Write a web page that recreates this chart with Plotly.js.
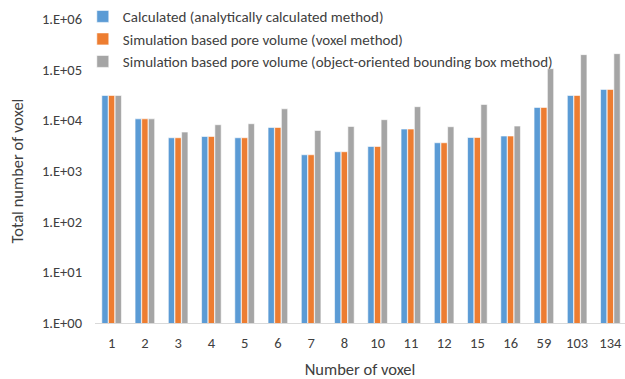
<!DOCTYPE html>
<html>
<head>
<meta charset="utf-8">
<script src="https://cdn.plot.ly/plotly-3.0.1.min.js"></script>
<style>html,body{margin:0;padding:0;background:#fff;}#chart{width:625px;height:379px;}</style>
</head>
<body>
<div id="chart"></div>
<script>
const categories = ["1","2","3","4","5","6","7","8","10","11","12","15","16","59","103","134"];
const calculated = [31000,10700,4530,4800,4530,7240,2090,2400,3050,6730,3610,4590,4900,18000,31000,40800];
const voxelMethod = [31000,10700,4530,4800,4530,7240,2090,2400,3050,6730,3610,4590,4900,18000,31000,40800];
const obbMethod = [31000,10700,5870,8190,8570,16900,6310,7580,10300,18600,7480,20600,7710,104700,198000,207000];
const seriesNames = [
  "Calculated (analytically calculated method)",
  "Simulation based pore volume (voxel method)",
  "Simulation based pore volume (object-oriented bounding box method)"
];
const yTickVals = [1,10,100,1000,10000,100000,1000000];
const yTickText = ["1.E+00","1.E+01","1.E+02","1.E+03","1.E+04","1.E+05","1.E+06"];
const colors = ["#5B9BD5","#ED7D31","#A5A5A5"];

const font = "Carlito, 'Liberation Sans', Arial, sans-serif";
const allSeries = [calculated, voxelMethod, obbMethod];
const traces = allSeries.map((vals, i) => ({
  type: "bar",
  name: seriesNames[i],
  x: categories,
  y: vals,
  legendgroup: "g" + i,
  marker: {color: colors[i], line: {color: "#ffffff", width: 0.6}}
}));

const layout = {
  width: 625, height: 379,
  margin: {l: 95, r: 0, t: 19, b: 56},
  paper_bgcolor: "#ffffff", plot_bgcolor: "#ffffff",
  barmode: "group", bargap: 0.4, bargroupgap: 0.05,
  font: {family: font, size: 14.5, color: "#404040"},
  showlegend: true,
  legend: {x: -0.023, y: 1.062, xanchor: "left", yanchor: "top", bgcolor: "rgba(0,0,0,0)",
           font: {family: font, size: 15, color: "#404040"}, tracegroupgap: 0,
           itemwidth: 30, traceorder: "grouped"},
  xaxis: {
    type: "category", range: [-0.5, 15.44],
    showline: true, linecolor: "#d9d9d9", linewidth: 1,
    showgrid: false, zeroline: false, ticks: "", ticklabelstandoff: 7,
    tickfont: {family: font, size: 14.5, color: "#404040"},
    title: {text: "Number of voxel", font: {family: font, size: 16.5, color: "#404040"}, standoff: 14}
  },
  yaxis: {
    type: "log", range: [0, 6],
    tickvals: yTickVals, ticktext: yTickText,
    showline: false, showgrid: false, zeroline: false, ticks: "", ticklabelstandoff: 12,
    tickfont: {family: font, size: 14.5, color: "#404040"},
    title: {text: "Total number of voxel", font: {family: font, size: 16.5, color: "#404040"}, standoff: 14}
  }
};

Plotly.newPlot("chart", traces, layout, {displayModeBar: false, staticPlot: true});
</script>
</body>
</html>
